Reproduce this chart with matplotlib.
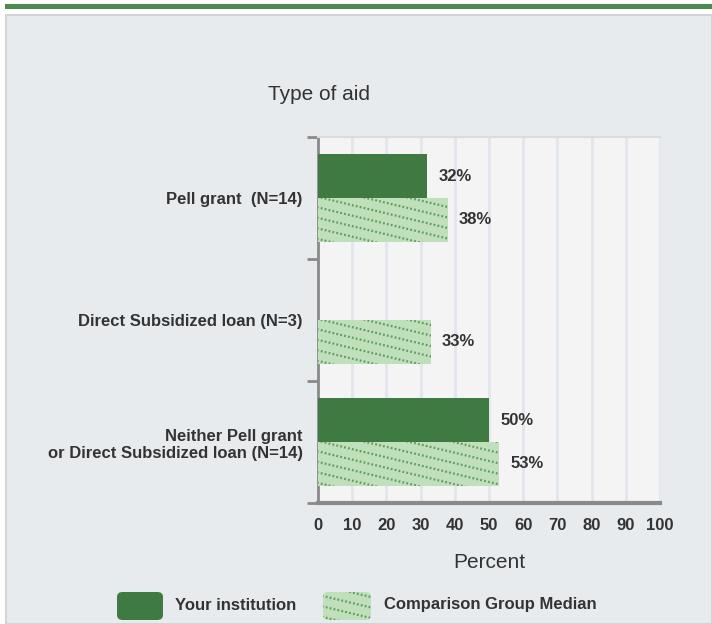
import matplotlib
matplotlib.use("Agg")
import matplotlib.pyplot as plt
from matplotlib.patches import Rectangle, FancyBboxPatch
from matplotlib.lines import Line2D
from matplotlib.transforms import IdentityTransform, TransformedPatchPath
import numpy as np

categories = ["Pell grant  (N=14)", "Direct Subsidized loan (N=3)",
              "Neither Pell grant\nor Direct Subsidized loan (N=14)"]
your_inst = [32, None, 50]
comparison = [38, 33, 53]
xticks = [0, 10, 20, 30, 40, 50, 60, 70, 80, 90, 100]
series_names = ["Your institution", "Comparison Group Median"]

DARK = "#3f7a42"
LIGHT = "#bfe0ba"
DOT = "#5e9c5e"
TXT = "#333333"
plt.rcParams['font.family'] = ['Liberation Sans', 'DejaVu Sans']

W, H = 712, 624
fig = plt.figure(figsize=(W / 100, H / 100), dpi=100)
fig.patch.set_facecolor("white")

# outer panel and top strip
fig.add_artist(Rectangle((6 / W, 0), 1 - 6 / W, 1 - 15 / H, transform=fig.transFigure,
                         facecolor="#e8ebee", edgecolor="#d2d4d6", linewidth=1.5, zorder=0))
fig.add_artist(Rectangle((5 / W, 1 - 9 / H), 1 - 5 / W, 5 / H, transform=fig.transFigure,
                         facecolor="#4a8a4c", edgecolor="none", zorder=0))

ax = fig.add_axes([318 / W, 1 - 503 / H, (660 - 318) / W, (503 - 137) / H])
ax.set_facecolor("#f4f4f4")
ax.set_xlim(0, 100)
ax.set_ylim(2.5, -0.5)

h = 0.36
y = np.arange(len(categories))
yv = [v if v is not None else 0 for v in your_inst]
bars1 = ax.barh(y - h / 2, yv, height=h, color=DARK, zorder=3)
bars2 = ax.barh(y + h / 2, comparison, height=h, color=LIGHT, zorder=3)


# dotted diagonal pattern drawn in display space, clipped to each patch
def dotted_pattern(container, patch):
    bb = patch.get_window_extent()
    x0, x1, y0, y1 = bb.x0, bb.x1, bb.y0, bb.y1
    slope = -0.24
    spacing = 10.5
    span = (x1 - x0) * abs(slope)
    clip = TransformedPatchPath(patch)
    for c in np.arange(y0 + 3, y1 + span + spacing, spacing):
        xs = np.array([x0 - 5, x1 + 5])
        ys = c + slope * (xs - x0)
        ln = Line2D(xs, ys, transform=IdentityTransform(), color=DOT, linewidth=1.6,
                    linestyle=(0, (0.8, 1.0)), zorder=4)
        ln.set_clip_path(clip)
        container.add_artist(ln)


fig.canvas.draw()
for p in bars2.patches:
    dotted_pattern(ax, p)

for i in range(len(categories)):
    if your_inst[i] is not None:
        ax.annotate(f"{your_inst[i]}%", (your_inst[i], y[i] - h / 2), xytext=(8, 0),
                    textcoords="offset points", ha="left", va="center",
                    fontsize=12, fontweight="bold", color=TXT, zorder=5)
    else:
        bars1.patches[i].set_visible(False)
    ax.annotate(f"{comparison[i]}%", (comparison[i], y[i] + h / 2), xytext=(8, 0),
                textcoords="offset points", ha="left", va="center",
                fontsize=12, fontweight="bold", color=TXT, zorder=5)

ax.set_xticks(xticks)
ax.set_xticklabels([str(t) for t in xticks], fontsize=12, fontweight="bold", color=TXT)
ax.tick_params(axis="x", length=0, pad=11)
ax.set_yticks(y)
ax.set_yticklabels(categories, fontsize=12, fontweight="bold", color=TXT, ha="right",
                   multialignment="right")
ax.tick_params(axis="y", which="major", length=0, pad=11)
ax.set_yticks([-0.5, 0.5, 1.5, 2.5], minor=True)
ax.tick_params(axis="y", which="minor", length=8, width=2, color="#8a8a8a")
ax.grid(axis="x", color="#e1e5ec", linewidth=2, zorder=1)
ax.set_axisbelow(True)
ax.spines["right"].set_visible(False)
ax.spines["top"].set_color("#dcdcdc")
ax.spines["top"].set_linewidth(1.5)
ax.spines["left"].set_color("#8a8a8a")
ax.spines["left"].set_linewidth(2)
ax.spines["bottom"].set_color("#8a8a8a")
ax.spines["bottom"].set_linewidth(3)

ax.set_xlabel("Percent", fontsize=15, color=TXT, labelpad=14)
fig.text(319 / W, 1 - 95 / H, "Type of aid", fontsize=15, color=TXT, ha="center", va="center")

# legend
b1 = FancyBboxPatch((117 / W, 1 - 620 / H), 46 / W, 28 / H, transform=fig.transFigure,
                    boxstyle="round,pad=0,rounding_size=0.008", facecolor=DARK, edgecolor="none")
fig.add_artist(b1)
fig.text(175 / W, 1 - 605 / H, series_names[0], fontsize=12, fontweight="bold", color=TXT,
         ha="left", va="center")
b2 = FancyBboxPatch((323 / W, 1 - 620 / H), 48 / W, 28 / H, transform=fig.transFigure,
                    boxstyle="round,pad=0,rounding_size=0.008", facecolor=LIGHT, edgecolor="none")
fig.add_artist(b2)
fig.canvas.draw()
dotted_pattern(fig, b2)
fig.text(384 / W, 1 - 605 / H, series_names[1], fontsize=12, fontweight="bold", color=TXT,
         ha="left", va="center")

fig.savefig("out.png", dpi=100)
